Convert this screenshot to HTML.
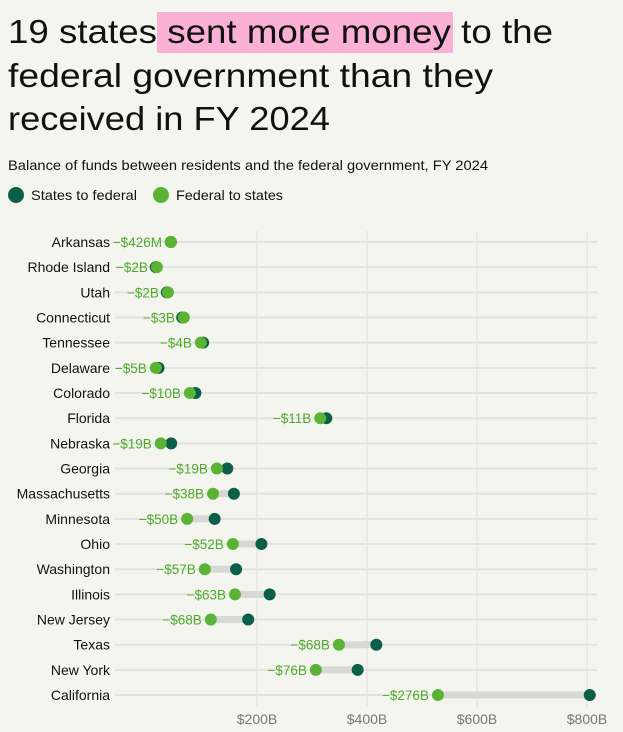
<!DOCTYPE html>
<html><head><meta charset="utf-8"><style>
body{margin:0;background:#f5f5f0;font-family:"Liberation Sans",sans-serif;}
svg{display:block}
</style></head><body>
<svg width="623" height="732" viewBox="0 0 623 732">
<rect width="623" height="732" fill="#f5f5f0"/>
<rect x="157" y="12" width="296" height="41" fill="#fbb1d6"/>
<g font-size="33" fill="#111">
<text x="8" y="43" textLength="545" lengthAdjust="spacingAndGlyphs">19 states sent more money to the</text>
<text x="8" y="87" textLength="485" lengthAdjust="spacingAndGlyphs">federal government than they</text>
<text x="8" y="130" textLength="322" lengthAdjust="spacingAndGlyphs">received in FY 2024</text>
</g>
<text x="8" y="170" font-size="14" fill="#111" textLength="480" lengthAdjust="spacingAndGlyphs">Balance of funds between residents and the federal government, FY 2024</text>
<g>
<circle cx="16" cy="195" r="8" fill="#0b5e47"/>
<text x="31" y="200" font-size="14" fill="#111" textLength="106" lengthAdjust="spacingAndGlyphs">States to federal</text>
<circle cx="161" cy="195" r="8" fill="#5bb335"/>
<text x="176" y="200" font-size="14" fill="#111" textLength="107" lengthAdjust="spacingAndGlyphs">Federal to states</text>
</g>
<g id="plot"></g>
</svg>
<script>
const states=["Arkansas","Rhode Island","Utah","Connecticut","Tennessee","Delaware","Colorado","Florida","Nebraska","Georgia","Massachusetts","Minnesota","Ohio","Washington","Illinois","New Jersey","Texas","New York","California"];
const federalToStates=[43.6,18,38,67,98,16,78,315,25,127,120,73,156,105,160,116,349,307,529];
const statesToFederal=[43.2,16,36,64,102,21,88,326,44,146,158,123,208,162,223,184,417,383,805];
const balanceLabels=["−$426M","−$2B","−$2B","−$3B","−$4B","−$5B","−$10B","−$11B","−$19B","−$19B","−$38B","−$50B","−$52B","−$57B","−$63B","−$68B","−$68B","−$76B","−$276B"];
const xTicks=[200,400,600,800];
const xTickLabels=["$200B","$400B","$600B","$800B"];
const NS="http://www.w3.org/2000/svg";
const g=document.getElementById('plot');
const x=v=>147+v*0.55;
const y=i=>242+i*25.17;
function mk(t,a){const e=document.createElementNS(NS,t);for(const k in a)e.setAttribute(k,a[k]);g.appendChild(e);return e;}
xTicks.forEach((t,i)=>{
 const l=mk('line',{x1:x(t),x2:x(t),y1:231,y2:707,stroke:'#e2e2dd','stroke-width':1.3});
 
 
 const tx=mk('text',{x:x(t),y:724,'font-size':14,fill:'#777','text-anchor':'middle'});
 tx.textContent=xTickLabels[i];
 
 
});
states.forEach((s,i)=>{
 const yy=y(i);
 const r=mk('line',{x1:115,x2:597,y1:yy,y2:yy,stroke:'#e2e2dd','stroke-width':2});
 
 
 const lab=mk('text',{x:110,y:yy+5,'font-size':14,fill:'#111','text-anchor':'end'});
 lab.textContent=s;
 
 
 const a=x(federalToStates[i]),b=x(statesToFederal[i]);
 const bar=mk('line',{x1:Math.min(a,b),x2:Math.max(a,b),y1:yy,y2:yy,stroke:'#d8d8d4','stroke-width':7});
 
 
 const d=mk('circle',{cx:b,cy:yy,r:6,fill:'#0b5e47'});
 
 
 const f=mk('circle',{cx:a,cy:yy,r:6,fill:'#5bb335'});
 
 
 const v=mk('text',{x:a-9,y:yy+5,'font-size':13.5,fill:'#4faa2c','text-anchor':'end'});
 v.textContent=balanceLabels[i];
 
 
});
</script>
</body></html>
